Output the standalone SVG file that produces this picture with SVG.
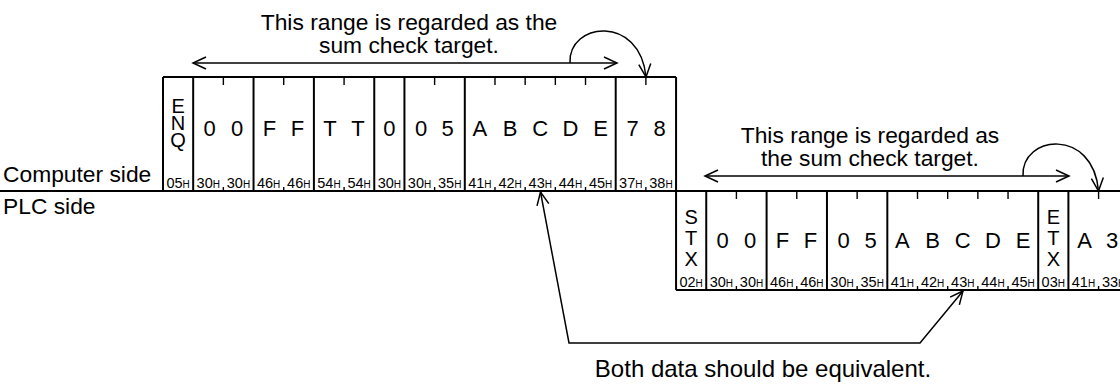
<svg xmlns="http://www.w3.org/2000/svg" width="1120" height="385" viewBox="0 0 1120 385">
<style>
text{font-family:"Liberation Sans",Arial,sans-serif;fill:#000}
.t{font-size:22.8px;text-anchor:middle}
.s{font-size:22.8px}
.c{font-size:22px;text-anchor:middle}
.v{font-size:20px;text-anchor:middle}
.h{font-size:14.5px;text-anchor:middle}
.h tspan{font-size:10px}
.b{fill:none;stroke:#000;stroke-width:2}
.k{fill:none;stroke:#000;stroke-width:1.4}
.a{fill:none;stroke:#000;stroke-width:1.5}
</style>
<defs>
<marker id="ah" viewBox="-15 -8 17 16" refX="0" refY="0" markerWidth="17" markerHeight="16" orient="auto-start-reverse" markerUnits="userSpaceOnUse">
<path d="M-13,-6 L0,0 L-13,6" fill="none" stroke="#000" stroke-width="1.5"/>
</marker>
</defs>
<rect width="1120" height="385" fill="#fff"/>

<g id="labels">
<text class="t" x="409" y="29.5">This range is regarded as the</text>
<text class="t" x="409" y="52.5">sum check target.</text>
<text class="t" x="870" y="143">This range is regarded as</text>
<text class="t" x="870" y="166">the sum check target.</text>
<text class="s" x="3" y="182">Computer side</text>
<text class="s" x="3" y="214">PLC side</text>
<text class="t" x="763" y="377" style="font-size:24px">Both data should be equivalent.</text>
</g>

<g id="baseline">
<line class="b" x1="0" y1="191" x2="1120" y2="191"/>
</g>

<g id="computer-frame">
<line class="b" x1="163" y1="77" x2="676.06" y2="77"/>
<g id="c-enq">
<line class="b" x1="163" y1="77" x2="163" y2="191"/>
<text class="v" x="178.09" y="113">E</text><text class="v" x="178.09" y="130">N</text><text class="v" x="178.09" y="147">Q</text>
<text class="h" x="178.09" y="187.5">05<tspan>H</tspan></text>
</g>
<g id="c-station">
<line class="b" x1="193.18" y1="77" x2="193.18" y2="191"/>
<line class="k" x1="223.36" y1="77" x2="223.36" y2="85"/><line class="k" x1="223.36" y1="187" x2="223.36" y2="191"/>
<text class="c" x="209.5" y="136">0</text><text class="c" x="237" y="136">0</text>
<text class="h" x="208.27" y="187.5">30<tspan>H</tspan></text><text class="h" x="238.45" y="187.5">30<tspan>H</tspan></text>
</g>
<g id="c-pc">
<line class="b" x1="253.54" y1="77" x2="253.54" y2="191"/>
<line class="k" x1="283.72" y1="77" x2="283.72" y2="85"/><line class="k" x1="283.72" y1="187" x2="283.72" y2="191"/>
<text class="c" x="269.5" y="136">F</text><text class="c" x="297.5" y="136">F</text>
<text class="h" x="268.63" y="187.5">46<tspan>H</tspan></text><text class="h" x="298.81" y="187.5">46<tspan>H</tspan></text>
</g>
<g id="c-command">
<line class="b" x1="313.9" y1="77" x2="313.9" y2="191"/>
<line class="k" x1="344.08" y1="77" x2="344.08" y2="85"/><line class="k" x1="344.08" y1="187" x2="344.08" y2="191"/>
<text class="c" x="330" y="136">T</text><text class="c" x="358" y="136">T</text>
<text class="h" x="328.99" y="187.5">54<tspan>H</tspan></text><text class="h" x="359.17" y="187.5">54<tspan>H</tspan></text>
</g>
<g id="c-wait">
<line class="b" x1="374.26" y1="77" x2="374.26" y2="191"/>
<text class="c" x="389.35" y="136">0</text>
<text class="h" x="389.35" y="187.5">30<tspan>H</tspan></text>
</g>
<g id="c-count">
<line class="b" x1="404.44" y1="77" x2="404.44" y2="191"/>
<line class="k" x1="434.62" y1="77" x2="434.62" y2="85"/><line class="k" x1="434.62" y1="187" x2="434.62" y2="191"/>
<text class="c" x="421" y="136">0</text><text class="c" x="447.5" y="136">5</text>
<text class="h" x="419.53" y="187.5">30<tspan>H</tspan></text><text class="h" x="449.71" y="187.5">35<tspan>H</tspan></text>
</g>
<g id="c-data">
<line class="b" x1="464.8" y1="77" x2="464.8" y2="191"/>
<line class="k" x1="494.98" y1="77" x2="494.98" y2="85"/><line class="k" x1="494.98" y1="187" x2="494.98" y2="191"/>
<line class="k" x1="525.16" y1="77" x2="525.16" y2="85"/><line class="k" x1="525.16" y1="187" x2="525.16" y2="191"/>
<line class="k" x1="555.34" y1="77" x2="555.34" y2="85"/><line class="k" x1="555.34" y1="187" x2="555.34" y2="191"/>
<line class="k" x1="585.52" y1="77" x2="585.52" y2="85"/><line class="k" x1="585.52" y1="187" x2="585.52" y2="191"/>
<text class="c" x="479.89" y="136">A</text><text class="c" x="510.07" y="136">B</text><text class="c" x="540.25" y="136">C</text><text class="c" x="570.43" y="136">D</text><text class="c" x="600.61" y="136">E</text>
<text class="h" x="479.89" y="187.5">41<tspan>H</tspan></text><text class="h" x="510.07" y="187.5">42<tspan>H</tspan></text><text class="h" x="540.25" y="187.5">43<tspan>H</tspan></text><text class="h" x="570.43" y="187.5">44<tspan>H</tspan></text><text class="h" x="600.61" y="187.5">45<tspan>H</tspan></text>
</g>
<g id="c-sum">
<line class="b" x1="615.7" y1="77" x2="615.7" y2="191"/>
<line class="b" x1="676.06" y1="77" x2="676.06" y2="191"/>
<line class="k" x1="645.88" y1="77" x2="645.88" y2="85"/><line class="k" x1="645.88" y1="187" x2="645.88" y2="191"/>
<text class="c" x="632.5" y="136">7</text><text class="c" x="659.5" y="136">8</text>
<text class="h" x="630.79" y="187.5">37<tspan>H</tspan></text><text class="h" x="660.97" y="187.5">38<tspan>H</tspan></text>
</g>
</g>

<g id="plc-frame">
<line class="b" x1="676.06" y1="290" x2="1120" y2="290"/>
<g id="p-stx">
<line class="b" x1="676.06" y1="191" x2="676.06" y2="290"/>
<text class="v" x="691.15" y="224">S</text><text class="v" x="691.15" y="245">T</text><text class="v" x="691.15" y="266">X</text>
<text class="h" x="691.15" y="286.5">02<tspan>H</tspan></text>
</g>
<g id="p-station">
<line class="b" x1="706.24" y1="191" x2="706.24" y2="290"/>
<line class="k" x1="736.42" y1="191" x2="736.42" y2="199"/><line class="k" x1="736.42" y1="286" x2="736.42" y2="290"/>
<text class="c" x="722.5" y="248">0</text><text class="c" x="750" y="248">0</text>
<text class="h" x="721.33" y="286.5">30<tspan>H</tspan></text><text class="h" x="751.51" y="286.5">30<tspan>H</tspan></text>
</g>
<g id="p-pc">
<line class="b" x1="766.6" y1="191" x2="766.6" y2="290"/>
<line class="k" x1="796.78" y1="191" x2="796.78" y2="199"/><line class="k" x1="796.78" y1="286" x2="796.78" y2="290"/>
<text class="c" x="782.5" y="248">F</text><text class="c" x="810.5" y="248">F</text>
<text class="h" x="781.69" y="286.5">46<tspan>H</tspan></text><text class="h" x="811.87" y="286.5">46<tspan>H</tspan></text>
</g>
<g id="p-count">
<line class="b" x1="826.96" y1="191" x2="826.96" y2="290"/>
<line class="k" x1="857.14" y1="191" x2="857.14" y2="199"/><line class="k" x1="857.14" y1="286" x2="857.14" y2="290"/>
<text class="c" x="843.5" y="248">0</text><text class="c" x="870.5" y="248">5</text>
<text class="h" x="842.05" y="286.5">30<tspan>H</tspan></text><text class="h" x="872.23" y="286.5">35<tspan>H</tspan></text>
</g>
<g id="p-data">
<line class="b" x1="887.32" y1="191" x2="887.32" y2="290"/>
<line class="k" x1="917.5" y1="191" x2="917.5" y2="199"/><line class="k" x1="917.5" y1="286" x2="917.5" y2="290"/>
<line class="k" x1="947.68" y1="191" x2="947.68" y2="199"/><line class="k" x1="947.68" y1="286" x2="947.68" y2="290"/>
<line class="k" x1="977.86" y1="191" x2="977.86" y2="199"/><line class="k" x1="977.86" y1="286" x2="977.86" y2="290"/>
<line class="k" x1="1008.04" y1="191" x2="1008.04" y2="199"/><line class="k" x1="1008.04" y1="286" x2="1008.04" y2="290"/>
<text class="c" x="902.41" y="248">A</text><text class="c" x="932.59" y="248">B</text><text class="c" x="962.77" y="248">C</text><text class="c" x="992.95" y="248">D</text><text class="c" x="1023.13" y="248">E</text>
<text class="h" x="902.41" y="286.5">41<tspan>H</tspan></text><text class="h" x="932.59" y="286.5">42<tspan>H</tspan></text><text class="h" x="962.77" y="286.5">43<tspan>H</tspan></text><text class="h" x="992.95" y="286.5">44<tspan>H</tspan></text><text class="h" x="1023.13" y="286.5">45<tspan>H</tspan></text>
</g>
<g id="p-etx">
<line class="b" x1="1038.22" y1="191" x2="1038.22" y2="290"/>
<text class="v" x="1053.31" y="224">E</text><text class="v" x="1053.31" y="245">T</text><text class="v" x="1053.31" y="266">X</text>
<text class="h" x="1053.31" y="286.5">03<tspan>H</tspan></text>
</g>
<g id="p-sum">
<line class="b" x1="1068.4" y1="191" x2="1068.4" y2="290"/>
<line class="k" x1="1098.58" y1="191" x2="1098.58" y2="199"/><line class="k" x1="1098.58" y1="286" x2="1098.58" y2="290"/>
<text class="c" x="1084.5" y="248">A</text><text class="c" x="1112" y="248">3</text>
<text class="h" x="1083.49" y="286.5">41<tspan>H</tspan></text><text class="h" x="1113.67" y="286.5">33<tspan>H</tspan></text>
</g>
</g>

<g id="connectors">
<path class="a" d="M193,63 H617" marker-start="url(#ah)" marker-end="url(#ah)"/>
<path class="a" d="M570,63 C568,22 640,14 646,77" marker-end="url(#ah)"/>
<path class="a" d="M705,176 H1069" marker-start="url(#ah)" marker-end="url(#ah)"/>
<path class="a" d="M1023,176 C1021,135 1093,127 1098.5,191" marker-end="url(#ah)"/>
<path class="a" d="M540.5,192 L569,343 L920,343 L963,291" marker-start="url(#ah)" marker-end="url(#ah)"/>
</g>
</svg>
